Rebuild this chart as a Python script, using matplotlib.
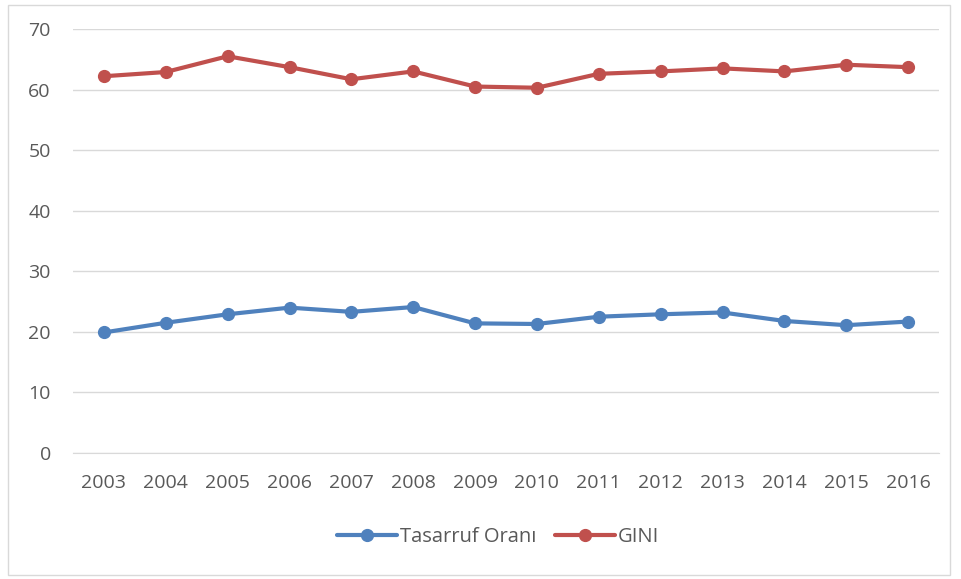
import matplotlib
matplotlib.use("Agg")
import matplotlib.pyplot as plt
from matplotlib.patches import Rectangle

years = ["2003", "2004", "2005", "2006", "2007", "2008", "2009",
         "2010", "2011", "2012", "2013", "2014", "2015", "2016"]
tasarruf = [19.9, 21.5, 22.9, 24.0, 23.3, 24.1, 21.4,
            21.3, 22.5, 22.9, 23.2, 21.8, 21.1, 21.7]
gini = [62.2, 62.9, 65.5, 63.7, 61.7, 63.0, 60.5,
        60.3, 62.6, 63.0, 63.5, 63.0, 64.1, 63.7]

plt.rcParams["font.family"] = ["Open Sans", "DejaVu Sans"]
text_color = "#595959"
grid_color = "#d9d9d9"

fig = plt.figure(figsize=(9.61, 5.79), dpi=100)
ax = fig.add_axes([73 / 961, 1 - 453 / 579, 866 / 961, 424 / 579])

x = range(len(years))
ax.plot(x, tasarruf, color="#4F81BD", lw=3, marker="o", ms=8.5,
        label="Tasarruf Oranı", solid_capstyle="round")
ax.plot(x, gini, color="#C0504D", lw=3, marker="o", ms=8.5,
        label="GINI", solid_capstyle="round")

ax.set_xlim(-0.5, len(years) - 0.5)
ax.set_ylim(0, 70)
ax.set_yticks(range(0, 71, 10))
ax.set_xticks(list(x))
ax.set_xticklabels(years)
ax.grid(axis="y", color=grid_color, lw=1)
ax.set_axisbelow(True)
for side in ["top", "right", "left"]:
    ax.spines[side].set_visible(False)
ax.spines["bottom"].set_color(grid_color)
ax.tick_params(axis="both", length=0, labelsize=14, colors=text_color)
ax.tick_params(axis="y", pad=16)
ax.tick_params(axis="x", pad=15)

leg = fig.legend(loc="center", bbox_to_anchor=(498 / 961, 1 - 537 / 579), ncol=2,
                 frameon=False, fontsize=14.5, handlelength=3.0,
                 columnspacing=0.9, handletextpad=0.15)
for t in leg.get_texts():
    t.set_color(text_color)

fig.patches.append(Rectangle((8 / 961, 4 / 579), 942 / 961, 570 / 579,
                             transform=fig.transFigure, fill=False,
                             edgecolor="#d9d9d9", lw=1))

fig.savefig("out.png", dpi=100)
